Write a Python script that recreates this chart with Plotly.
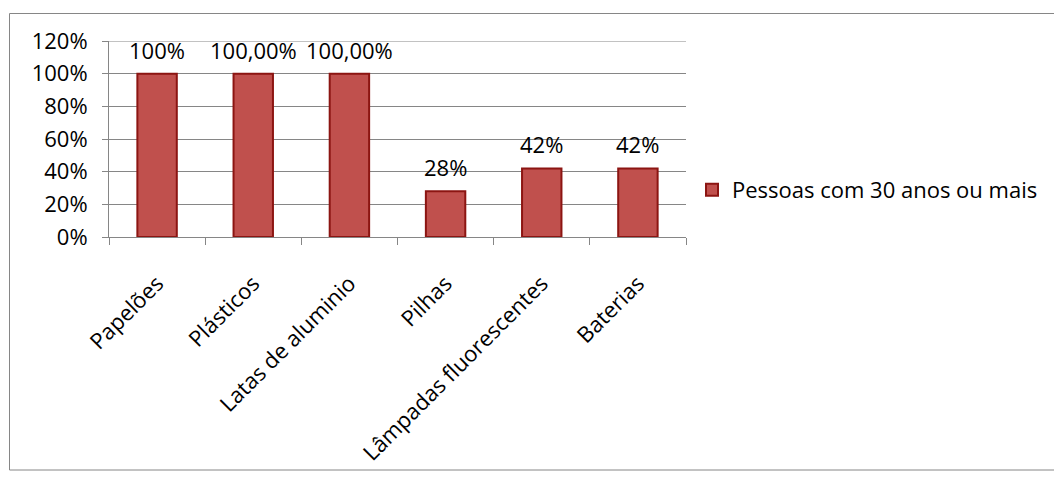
import plotly.graph_objects as go

categories = ["Papelões", "Plásticos", "Latas de aluminio", "Pilhas", "Lâmpadas fluorescentes", "Baterias"]
values = [1.00, 1.00, 1.00, 0.28, 0.42, 0.42]
value_labels = ["100%", "100,00%", "100,00%", "28%", "42%", "42%"]
series_name = "Pessoas com 30 anos ou mais"
y_ticks = [0, 0.2, 0.4, 0.6, 0.8, 1.0, 1.2]
y_tick_labels = ["0%", "20%", "40%", "60%", "80%", "100%", "120%"]

W, H = 1062, 481
OFF = 8  # page body margin
L, R, T, B = 109 - OFF, 686 - OFF, 41 - OFF, 237 - OFF
FONT = "Open Sans"
GRID = "#868686"

fig = go.Figure()
fig.add_trace(go.Bar(
    x=categories, y=values, name=series_name,
    marker=dict(color="#C0504D", line=dict(color="#8C1512", width=2)),
    width=0.41,
))

for c, v, t in zip(categories, values, value_labels):
    fig.add_annotation(x=c, y=v, text=t, showarrow=False, yanchor="bottom",
                       yshift=7, font=dict(family=FONT, size=22, color="#000000"))

pw, ph = R - L, B - T
def px_x(p):
    return (p - OFF - L) / pw
def px_y(p):
    return (B - (p - OFF)) / ph

fig.add_shape(type="rect", xref="paper", yref="paper",
              x0=px_x(9.5), x1=px_x(1063), y0=px_y(470), y1=px_y(13.5),
              line=dict(color=GRID, width=1), fillcolor="rgba(0,0,0,0)", layer="below")
# top gridline (120%)
fig.add_shape(type="line", xref="paper", yref="y", x0=0, x1=1,
              y0=y_ticks[-1], y1=y_ticks[-1], line=dict(color=GRID, width=1), layer="below")

fig.update_layout(
    width=W, height=H,
    margin=dict(l=L, r=W - R, t=T, b=H - B, autoexpand=False),
    paper_bgcolor="white", plot_bgcolor="white",
    font=dict(family=FONT, size=22, color="#000000"),
    showlegend=True,
    legend=dict(x=px_x(692), y=px_y(190), xanchor="left", yanchor="middle",
                font=dict(family=FONT, size=22), itemwidth=30,
                bgcolor="rgba(0,0,0,0)"),
    bargap=0.59,
)
fig.update_xaxes(
    type="category", tickangle=-45, tickson="boundaries",
    ticks="outside", ticklen=7, tickcolor=GRID,
    showline=True, linecolor=GRID, linewidth=1,
    showgrid=False, tickfont=dict(family=FONT, size=22),
    ticklabelstandoff=24,
)
fig.update_yaxes(
    range=[0, 1.2], tickvals=y_ticks, ticktext=y_tick_labels,
    ticks="outside", ticklen=6, tickcolor=GRID,
    showline=True, linecolor=GRID, linewidth=1,
    showgrid=True, gridcolor=GRID, gridwidth=1,
    zeroline=False, tickfont=dict(family=FONT, size=22),
    ticklabelstandoff=10,
)

fig.write_html("out.html")
